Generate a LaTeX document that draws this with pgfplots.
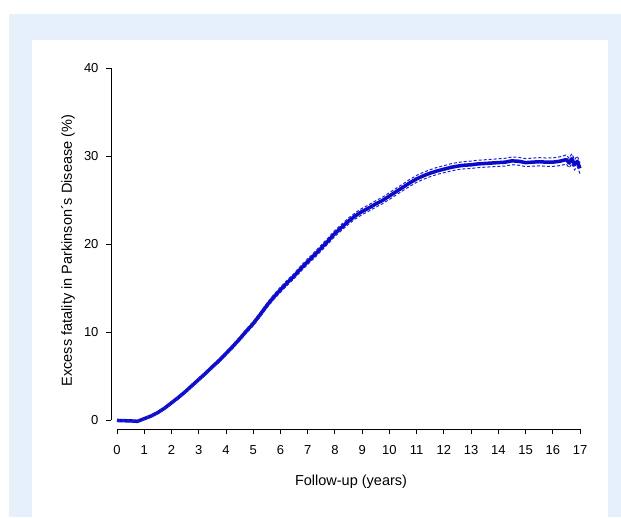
\documentclass[border=0pt]{standalone}
\usepackage{fontspec}
\setmainfont{Liberation Sans}
\usepackage{pgfplots}
\usepackage{pgfplotstable}
\pgfplotsset{compat=1.18}
\definecolor{bgblue}{RGB}{230,240,250}
\definecolor{curveblue}{RGB}{10,10,200}
\definecolor{ciblue}{RGB}{30,30,215}

\pgfplotstableread{
x     y      lo     hi
0     -0.05  -0.13  0.03
0.25  -0.08  -0.16  0.00
0.5   -0.10  -0.18  -0.02
0.75  -0.15  -0.23  -0.07
1     0.15   0.05   0.25
1.25  0.45   0.35   0.55
1.5   0.85   0.73   0.97
1.75  1.35   1.23   1.47
2     1.95   1.80   2.10
2.25  2.55   2.40   2.70
2.5   3.20   3.05   3.35
2.75  3.90   3.73   4.07
3     4.60   4.43   4.77
3.25  5.30   5.12   5.48
3.5   6.05   5.87   6.23
3.75  6.75   6.55   6.95
4     7.55   7.35   7.75
4.25  8.35   8.13   8.57
4.5   9.20   8.98   9.42
4.75  10.10  9.86   10.34
5     10.95  10.70  11.20
5.25  11.95  11.69  12.21
5.5   13.00  12.73  13.27
5.75  13.95  13.67  14.23
6     14.80  14.50  15.10
6.25  15.60  15.30  15.90
6.5   16.35  16.05  16.65
6.75  17.20  16.88  17.52
7     18.00  17.68  18.32
7.25  18.75  18.42  19.08
7.5   19.55  19.22  19.88
7.75  20.35  20.01  20.69
8     21.20  20.86  21.54
8.25  21.90  21.55  22.25
8.5   22.60  22.25  22.95
8.75  23.20  22.85  23.55
9     23.70  23.34  24.06
9.25  24.10  23.74  24.46
9.5   24.55  24.18  24.92
9.75  24.95  24.58  25.32
10    25.45  25.07  25.83
10.25 25.95  25.57  26.33
10.5  26.45  26.07  26.83
10.75 26.95  26.56  27.34
11    27.40  27.01  27.79
11.25 27.75  27.35  28.15
11.5  28.05  27.65  28.45
11.75 28.30  27.90  28.70
12    28.50  28.10  28.90
12.25 28.70  28.29  29.11
12.5  28.85  28.44  29.26
12.75 28.95  28.54  29.36
13    29.00  28.58  29.42
13.25 29.10  28.68  29.52
13.5  29.15  28.73  29.57
13.75 29.20  28.77  29.63
14    29.25  28.82  29.68
14.25 29.30  28.86  29.74
14.5  29.45  29.01  29.89
14.75 29.40  28.95  29.85
15    29.25  28.80  29.70
15.25 29.30  28.84  29.76
15.5  29.35  28.89  29.81
15.75 29.30  28.83  29.77
16    29.30  28.82  29.78
16.25 29.40  28.90  29.90
16.5  29.60  29.08  30.12
16.6  29.20  28.66  29.74
16.7  29.70  29.14  30.26
16.8  29.00  28.42  29.58
16.9  29.40  28.80  30.00
17    28.60  27.98  29.22
}\fatality

\begin{document}
\begin{tikzpicture}
% background panels
\fill[white] (-117pt,-97pt) rectangle (504pt,420pt);
\fill[bgblue] (-108pt,-97pt) rectangle (504pt,406pt);
\fill[white] (-85pt,-97pt) rectangle (491pt,380pt);

\begin{axis}[
    at={(0pt,0pt)}, anchor=south west,
    scale only axis, width=463pt, height=352pt,
    xmin=0, xmax=17, ymin=0, ymax=40,
    axis lines=left,
    axis x line shift=9pt, axis y line shift=6pt,
    axis line style={black, line width=0.8pt, -},
    xtick={0,1,...,17}, ytick={0,10,20,30,40},
    tick align=outside, major tick length=5pt,
    tick style={black, line width=0.8pt},
    /pgf/number format/assume math mode=true,
    tick label style={font=\fontsize{13}{15}\selectfont},
    xticklabel style={yshift=-8pt},
    yticklabel style={xshift=-4pt},
    label style={font=\fontsize{14.5}{16}\selectfont},
    xlabel={Follow-up (years)},
    ylabel={Excess fatality in Parkinson\textasciiacute s Disease (\%)},
    xlabel style={at={(axis description cs:0.5054,0)}, anchor=center, yshift=-62pt},
    ylabel style={at={(axis description cs:0,0.4815)}, anchor=center, yshift=49pt},
    clip=false,
  ]
  \addplot[curveblue, line width=3.5pt, line join=round] table[x=x, y=y] {\fatality};
  \addplot[ciblue, line width=1pt, dash pattern=on 3pt off 2pt] table[x=x, y=lo] {\fatality};
  \addplot[ciblue, line width=1pt, dash pattern=on 3pt off 2pt] table[x=x, y=hi] {\fatality};
\end{axis}
\end{tikzpicture}
\end{document}
